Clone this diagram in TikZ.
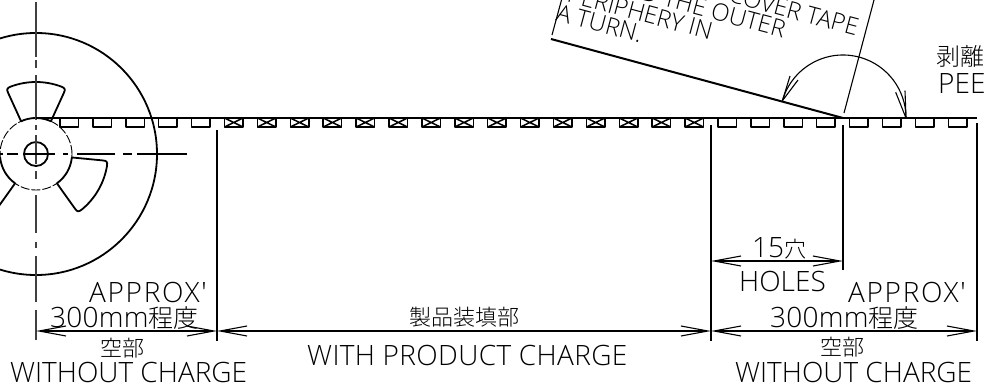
\documentclass[tikz,border=0pt]{standalone}
\usepackage{fontspec}
\setmainfont{Open Sans Light}
\newfontfamily\cjk{Noto Sans CJK JP Light}
\newfontfamily\wide{Open Sans Light}[LetterSpace=6]
\usetikzlibrary{arrows.meta}
\tikzset{
  heavy/.style={line width=2pt,line join=round},
  reelline/.style={line width=1.8pt,line join=round},
  pocketline/.style={line width=1.5pt,line join=round},
  thinline/.style={line width=1.1pt},
  vcenter/.style={line width=1.2pt,draw=black!75,dash pattern=on 55pt off 3pt on 8pt off 7pt on 45pt off 5pt on 5pt off 5pt on 29pt off 7pt on 8pt off 16pt on 38pt off 9pt on 6pt off 8pt on 46pt off 8pt on 30pt off 20pt},
  hcenter/.style={line width=1.1pt,dash pattern=on 50pt off 5pt on 9pt off 8pt on 38pt off 9pt on 5pt off 8pt on 32pt off 5pt on 11pt off 4pt on 5pt off 20pt},
  hidden/.style={line width=0.9pt,dash pattern=on 9pt off 2pt},
  dimline/.style={line width=1.1pt,{Straight Barb[length=27pt,width=10pt,line width=1.1pt]}-{Straight Barb[length=27pt,width=10pt,line width=1.1pt]}},
  lbl/.style={inner sep=0pt,anchor=base west,font=\fontsize{28pt}{30pt}\selectfont},
  cjklbl/.style={inner sep=0pt,anchor=base west,font=\fontsize{22pt}{24pt}\selectfont\cjk},
  tilted/.style={inner sep=0pt,anchor=base east,rotate=-15,font=\fontsize{24pt}{26pt}\selectfont},
}
\newcommand{\reelwindow}[1]{%
  \draw[reelline,shift={(36,-154)},rotate=#1]
    (65.5:36) -- (65.5:67) .. controls (65.5:71) and (66:72) .. (69.5:72)
    arc[start angle=69.5,end angle=110.5,radius=72pt]
    .. controls (114:72) and (114.5:71) .. (114.5:67) -- (114.5:36)
    arc[start angle=114.5,end angle=65.5,radius=36pt] -- cycle;}
\begin{document}
\begin{tikzpicture}[x=1pt,y=1pt]
\clip (0,-383) rectangle (985,0);
\fill[white] (0,-383) rectangle (985,0);
% reel
\coordinate (rc) at (36,-154);
\draw[reelline] (rc) circle[radius=121pt];
\draw[hidden] (rc) circle[radius=36pt];
\draw[reelline] (rc) circle[radius=12pt];
\reelwindow{0}\reelwindow{-120}\reelwindow{120}
\coordinate (vt) at (36,-2);
\coordinate (vb) at (36,-340);
\coordinate (hl) at (187,-154);
\coordinate (hr) at (0,-154);
\draw[vcenter] (vt) -- (vb);
\draw[hcenter] (hl) -- (hr);
% tape
\coordinate (ts) at (36,-118);
\coordinate (te) at (977,-118);
\draw[heavy] (ts) -- (te);
\foreach \i in {0,...,27}{
  \pgfmathsetmacro{\xa}{60+32.9*\i}
  \pgfmathsetmacro{\xb}{\xa+18.5}
  \draw[pocketline] (\xa,-118) -- (\xa,-127) -- (\xb,-127) -- (\xb,-118);
  \ifnum\i>4 \ifnum\i<20
    \draw[pocketline] (\xa,-118) -- (\xb,-127) (\xa,-127) -- (\xb,-118);
  \fi\fi
}
% peel tape
\coordinate (pk) at (843,-118);
\coordinate (tl) at (551,-39);
\draw[heavy] (pk) -- (tl);
\coordinate (bl1) at (552,-35);
\coordinate (bl2) at (561.5,0);
\draw[thinline] (bl1) -- (bl2);
\coordinate (br1) at (844,-113);
\coordinate (br2) at (874,0);
\draw[thinline] (br1) -- (br2);
% peel angle
\coordinate (tipl) at ([shift={(164:63)}]pk);
\coordinate (tipr) at ([shift={(0:63)}]pk);
\draw[thinline] (tipl) arc[start angle=164,end angle=0,radius=63pt];
\coordinate (bla) at (790,-76); \coordinate (blb) at (798,-80);
\coordinate (bra) at (895.7,-92.3); \coordinate (brb) at (905,-90.7);
\draw[thinline,line join=round] (bla) -- (tipl) -- (blb);
\draw[thinline,line join=round] (bra) -- (tipr) -- (brb);
% extension lines
\coordinate (e1a) at (217,-130); \coordinate (e1b) at (217,-341);
\coordinate (e2a) at (711,-125); \coordinate (e2b) at (711,-341);
\coordinate (e3a) at (843,-125); \coordinate (e3b) at (843,-270);
\coordinate (e4a) at (977,-123); \coordinate (e4b) at (977,-341);
\draw[thinline] (e1a)--(e1b) (e2a)--(e2b) (e3a)--(e3b) (e4a)--(e4b);
% dimensions
\coordinate (d1) at (36,-331); \coordinate (d2) at (217,-331);
\coordinate (d3) at (711,-331); \coordinate (d4) at (977,-331);
\coordinate (d5) at (711,-261); \coordinate (d6) at (843,-261);
\draw[dimline] (d1) -- (d2);
\draw[dimline] (d2) -- (d3);
\draw[dimline] (d3) -- (d4);
\draw[dimline] (d5) -- (d6);
% labels
\node[lbl] (a1) at (89,-302) {\wide APPROX'};
\node[lbl] (a2) at (848,-302) {\wide APPROX'};
\node[lbl] (b1) at (50,-327) {\addfontfeature{LetterSpace=1}300mm{\fontsize{25pt}{25pt}\selectfont\cjk 程度}};
\node[lbl] (b2) at (770,-327) {\addfontfeature{LetterSpace=1}300mm{\fontsize{25pt}{25pt}\selectfont\cjk 程度}};
\node[cjklbl] (c1) at (100,-356) {空部};
\node[cjklbl] (c2) at (820,-355.5) {空部};
\node[lbl] (w1) at (10,-382.5) {WITHOUT CHARGE};
\node[lbl] (w2) at (735,-382.5) {WITHOUT CHARGE};
\node[cjklbl] (m1) at (409,-325) {製品装填部};
\node[lbl] (m2) at (307,-365) {\addfontfeature{LetterSpace=1.3}WITH PRODUCT CHARGE};
\node[lbl] (h1) at (752,-257) {15{\fontsize{22pt}{24pt}\selectfont\cjk 穴}};
\node[lbl] (h2) at (739,-291) {HOLES};
\node[lbl] (p1) at (936,-65) {\fontsize{24pt}{24pt}\selectfont\cjk 剥離};
\node[lbl] (p2) at (938,-93) {PEE};
% tilted text
\node[tilted] (t1) at (640,-43) {A TURN.};
\node[tilted] (t2) at (710,-40) {PERIPHERY IN};
\node[tilted] (t3) at (783,-38) {AROUND THE OUTER};
\node[tilted] (t4) at (856,-36) {COVER TAPE};
\end{tikzpicture}
\end{document}
